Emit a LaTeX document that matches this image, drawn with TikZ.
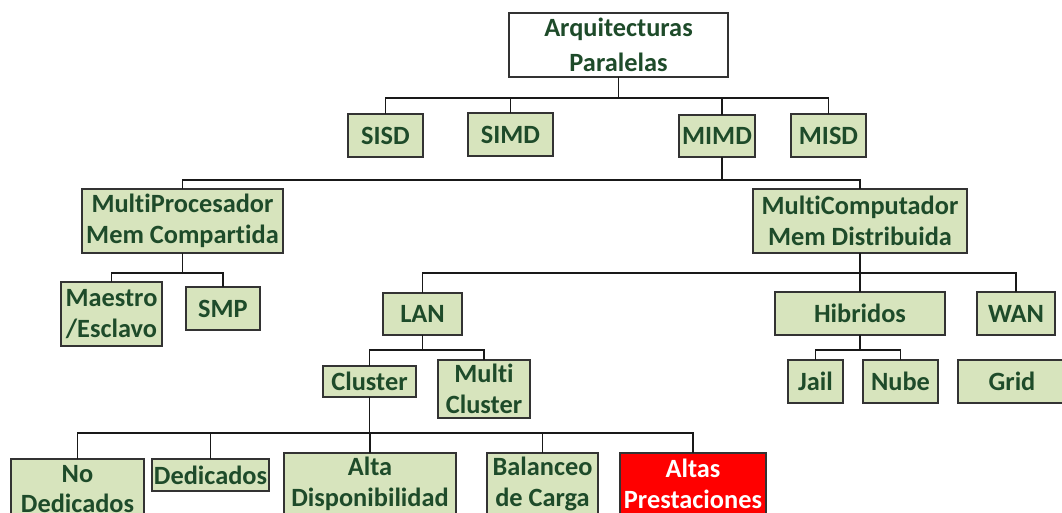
\documentclass[tikz,border=0pt]{standalone}
\usepackage{fontspec}
\setmainfont{Carlito}[Ligatures=NoCommon]
\definecolor{txtgreen}{RGB}{30,75,42}
\definecolor{boxgreen}{RGB}{215,228,189}
\definecolor{boxred}{RGB}{255,0,0}

\begin{document}
\begin{tikzpicture}[x=0.02cm,y=-0.02cm,
  every node/.style={draw=black!80, line width=0.8pt, fill=boxgreen, text=txtgreen,
    font=\fontsize{15}{17.6}\selectfont\bfseries, align=center, inner sep=0pt, outer sep=0pt},
  sz/.style 2 args={minimum width=#1*0.02cm, minimum height=#2*0.02cm},
  link/.style={draw=black!90, line width=0.6pt}]

\useasboundingbox (0,0) rectangle (1062,512);
\clip (0,0) rectangle (1062,512);

\node[sz={219}{64}, fill=white] (root) at (618.5,45) {Arquitecturas\\[2pt]Paralelas};

\node[sz={75}{43}] (sisd) at (385.5,135.5) {SISD};
\node[sz={85}{43}] (simd) at (510.5,134.5) {SIMD};
\node[sz={76}{42}] (mimd) at (717,136) {MIMD};
\node[sz={75}{43}] (misd) at (828.5,135.5) {MISD};

\node[sz={201}{64}] (mproc) at (182.5,221) {MultiProcesador\\Mem Compartida};
\node[sz={214}{64}] (mcomp) at (860,221) {MultiComputador\\Mem Distribuida};

\node[sz={101}{64}] (maestro) at (111.5,314) {Maestro\\/Esclavo};
\node[sz={74}{43}] (smp) at (223,308.5) {SMP};
\node[sz={79}{42}] (lan) at (422.5,314) {LAN};
\node[sz={170}{43}] (hibr) at (860,313.5) {Hibridos};
\node[sz={78}{43}] (wan) at (1016,313.5) {WAN};

\node[sz={93}{31}] (cluster) at (369.5,381.5) {Cluster};
\node[sz={92}{58}] (mcluster) at (484,389) {Multi\\Cluster};
\node[sz={55}{43}] (jail) at (815.5,381.5) {Jail};
\node[sz={75}{43}] (nube) at (900.5,381.5) {Nube};
\node[sz={108}{43}] (grid) at (1012,381.5) {Grid};

\node[sz={133}{60}] (nodedic) at (77.5,489) {No\\Dedicados};
\node[sz={117}{32}] (dedic) at (210.5,475) {Dedicados};
\node[sz={172}{62}] (altadisp) at (370,484) {Alta\\Disponibilidad};
\node[sz={111}{62}] (balanceo) at (542.5,484) {Balanceo\\de Carga};
\node[sz={146}{62}, fill=boxred, text=white] (altas) at (693,484) {Altas\\Prestaciones};

% arbol
\draw[link] (root.south) -- ++(0,21) -| (sisd.north);
\draw[link] (root.south) -- ++(0,21) -| (simd.north);
\draw[link] (root.south) -- ++(0,21) -| ([xshift=0.1cm]mimd.north);
\draw[link] (root.south) -- ++(0,21) -| (misd.north);

\draw[link] ([xshift=0.1cm]mimd.south) -- ++(0,23) -| (mproc.north);
\draw[link] ([xshift=0.1cm]mimd.south) -- ++(0,23) -| (mcomp.north);

\draw[link] (mproc.south) -- ++(0,20) -| (maestro.north);
\draw[link] (mproc.south) -- ++(0,20) -| (smp.north);

\draw[link] (mcomp.south) -- ++(0,20) -| (lan.north);
\draw[link] (mcomp.south) -- ++(0,20) -| (hibr.north);
\draw[link] (mcomp.south) -- ++(0,20) -| (wan.north);

\draw[link] (lan.south) -- ++(0,15) -| (cluster.north);
\draw[link] (lan.south) -- ++(0,15) -| (mcluster.north);

\draw[link] (hibr.south) -- ++(0,15) -| (jail.north);
\draw[link] (hibr.south) -- ++(0,15) -| (nube.north);

\draw[link] (cluster.south) -- ++(0,36) -| (nodedic.north);
\draw[link] (cluster.south) -- ++(0,36) -| (dedic.north);
\draw[link] (cluster.south) -- ++(0,36) -| (altadisp.north);
\draw[link] (cluster.south) -- ++(0,36) -| (balanceo.north);
\draw[link] (cluster.south) -- ++(0,36) -| (altas.north);
\end{tikzpicture}
\end{document}
